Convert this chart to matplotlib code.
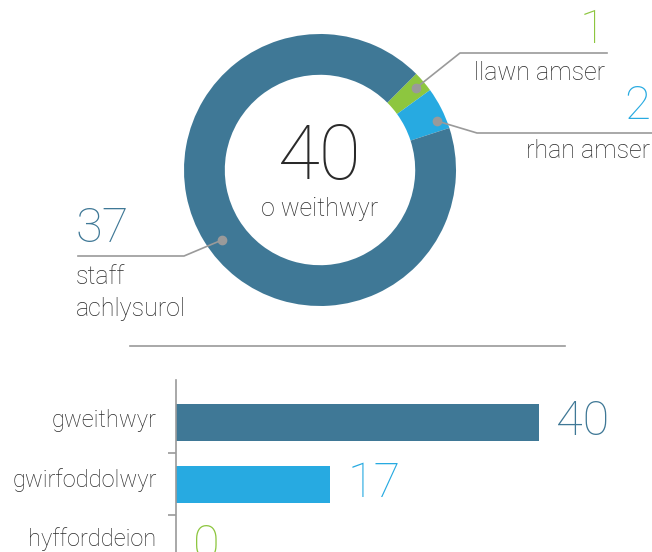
import matplotlib
matplotlib.use("Agg")
import matplotlib.pyplot as plt
import matplotlib.transforms as transforms

# donut data
donut_labels = ["llawn amser", "rhan amser", "staff\nachlysurol"]
donut_values = [1, 2, 37]
donut_colors = ["#8dc63f", "#27aae1", "#3f7896"]
total_label = "o weithwyr"

# bar data
bar_cats = ["gweithwyr", "gwirfoddolwyr", "hyfforddeion"]
bar_values = [40, 17, 0]
bar_colors = ["#3f7896", "#27aae1", "#8dc63f"]

plt.rcParams["font.family"] = ["Roboto", "Lato", "DejaVu Sans"]
plt.rcParams["font.weight"] = "light"
txt = "#2a2a2a"
grey = "#9a9a9a"

fig = plt.figure(figsize=(6.52, 5.52), dpi=100)
W, H = 652, 552

# ---- donut
cx, cy, r = 320, 170, 136
ax = fig.add_axes([(cx - r) / W, (H - cy - r) / H, 2 * r / W, 2 * r / H])
wedges, _ = ax.pie(donut_values, colors=donut_colors, startangle=45,
                   counterclock=False, radius=1,
                   wedgeprops=dict(width=0.3, linewidth=0))
ax.set_xlim(-1, 1); ax.set_ylim(-1, 1)
ax.set_aspect("equal")
ax.axis("off")

ax.text(0, 0.09, str(sum(donut_values)), ha="center", va="center",
        fontsize=55, color=txt)
ax.text(0, -0.29, total_label, ha="center", va="center",
        fontsize=18, color=txt)

def px(x, y):
    # pixel position in the reference -> donut data coords
    return ((x - cx) / r, (cy - y) / r)

def leader(pts):
    xs, ys = zip(*[px(*p) for p in pts])
    ax.plot(xs, ys, color=grey, lw=1.2, clip_on=False)
    ax.plot(xs[0], ys[0], "o", color=grey, ms=6, clip_on=False)

# llawn amser
leader([(416, 88), (460, 53), (607, 53)])
ax.text(*px(605, 30), str(donut_values[0]), ha="right", va="center",
        fontsize=34, color=donut_colors[0])
ax.text(*px(605, 73), donut_labels[0], ha="right", va="center",
        fontsize=18, color=txt)
# rhan amser
leader([(437, 121), (477, 133), (652, 133)])
ax.text(*px(650, 106), str(donut_values[1]), ha="right", va="center",
        fontsize=34, color=donut_colors[1])
ax.text(*px(650, 151), donut_labels[1], ha="right", va="center",
        fontsize=18, color=txt)
# staff achlysurol
leader([(222, 240), (184, 256), (78, 256)])
ax.text(*px(76, 229), str(donut_values[2]), ha="left", va="center",
        fontsize=35, color=donut_colors[2])
ax.text(*px(76, 293), donut_labels[2], ha="left", va="center",
        fontsize=18, color=txt, linespacing=1.4)

# separator
fig.add_artist(plt.Line2D([130 / W, 565 / W], [1 - 346 / H, 1 - 346 / H],
                          color=grey, lw=1.2))

# ---- bars
x0, y_top = 176, 380
bx = fig.add_axes([x0 / W, 0, (W - x0) / W, (H - y_top) / H])
unit = 363 / 40
step = 62
bx.barh(range(len(bar_cats)), bar_values, height=37 / step,
        color=bar_colors, linewidth=0)
bx.set_xlim(0, (W - x0) / unit)
bx.set_ylim((H - 422) / step, (y_top - 422) / step)
for s in ["top", "right", "bottom"]:
    bx.spines[s].set_visible(False)
bx.spines["left"].set_color(grey)
bx.spines["left"].set_linewidth(1.2)
bx.set_xticks([])
bx.set_yticks(range(len(bar_cats)))
bx.set_yticklabels(bar_cats, fontsize=17, color=txt)
bx.set_yticks([0.5, 1.5], minor=True)
bx.tick_params(axis="y", which="major", length=0, pad=14)
bx.tick_params(axis="y", which="minor", length=6, color=grey, width=1.2)
# labels sit a little above the bar centres in the reference
for i, lab in enumerate(bx.get_yticklabels()):
    lab.set_transform(lab.get_transform() + transforms.ScaledTranslation(
        0, (4 + 2.5 * i) / 100, fig.dpi_scale_trans))
for i, v in enumerate(bar_values):
    bx.text(v + 17 / unit, i, str(v), ha="left", va="center",
            fontsize=35, color=bar_colors[i], clip_on=False)

fig.savefig("out.png", dpi=100)
